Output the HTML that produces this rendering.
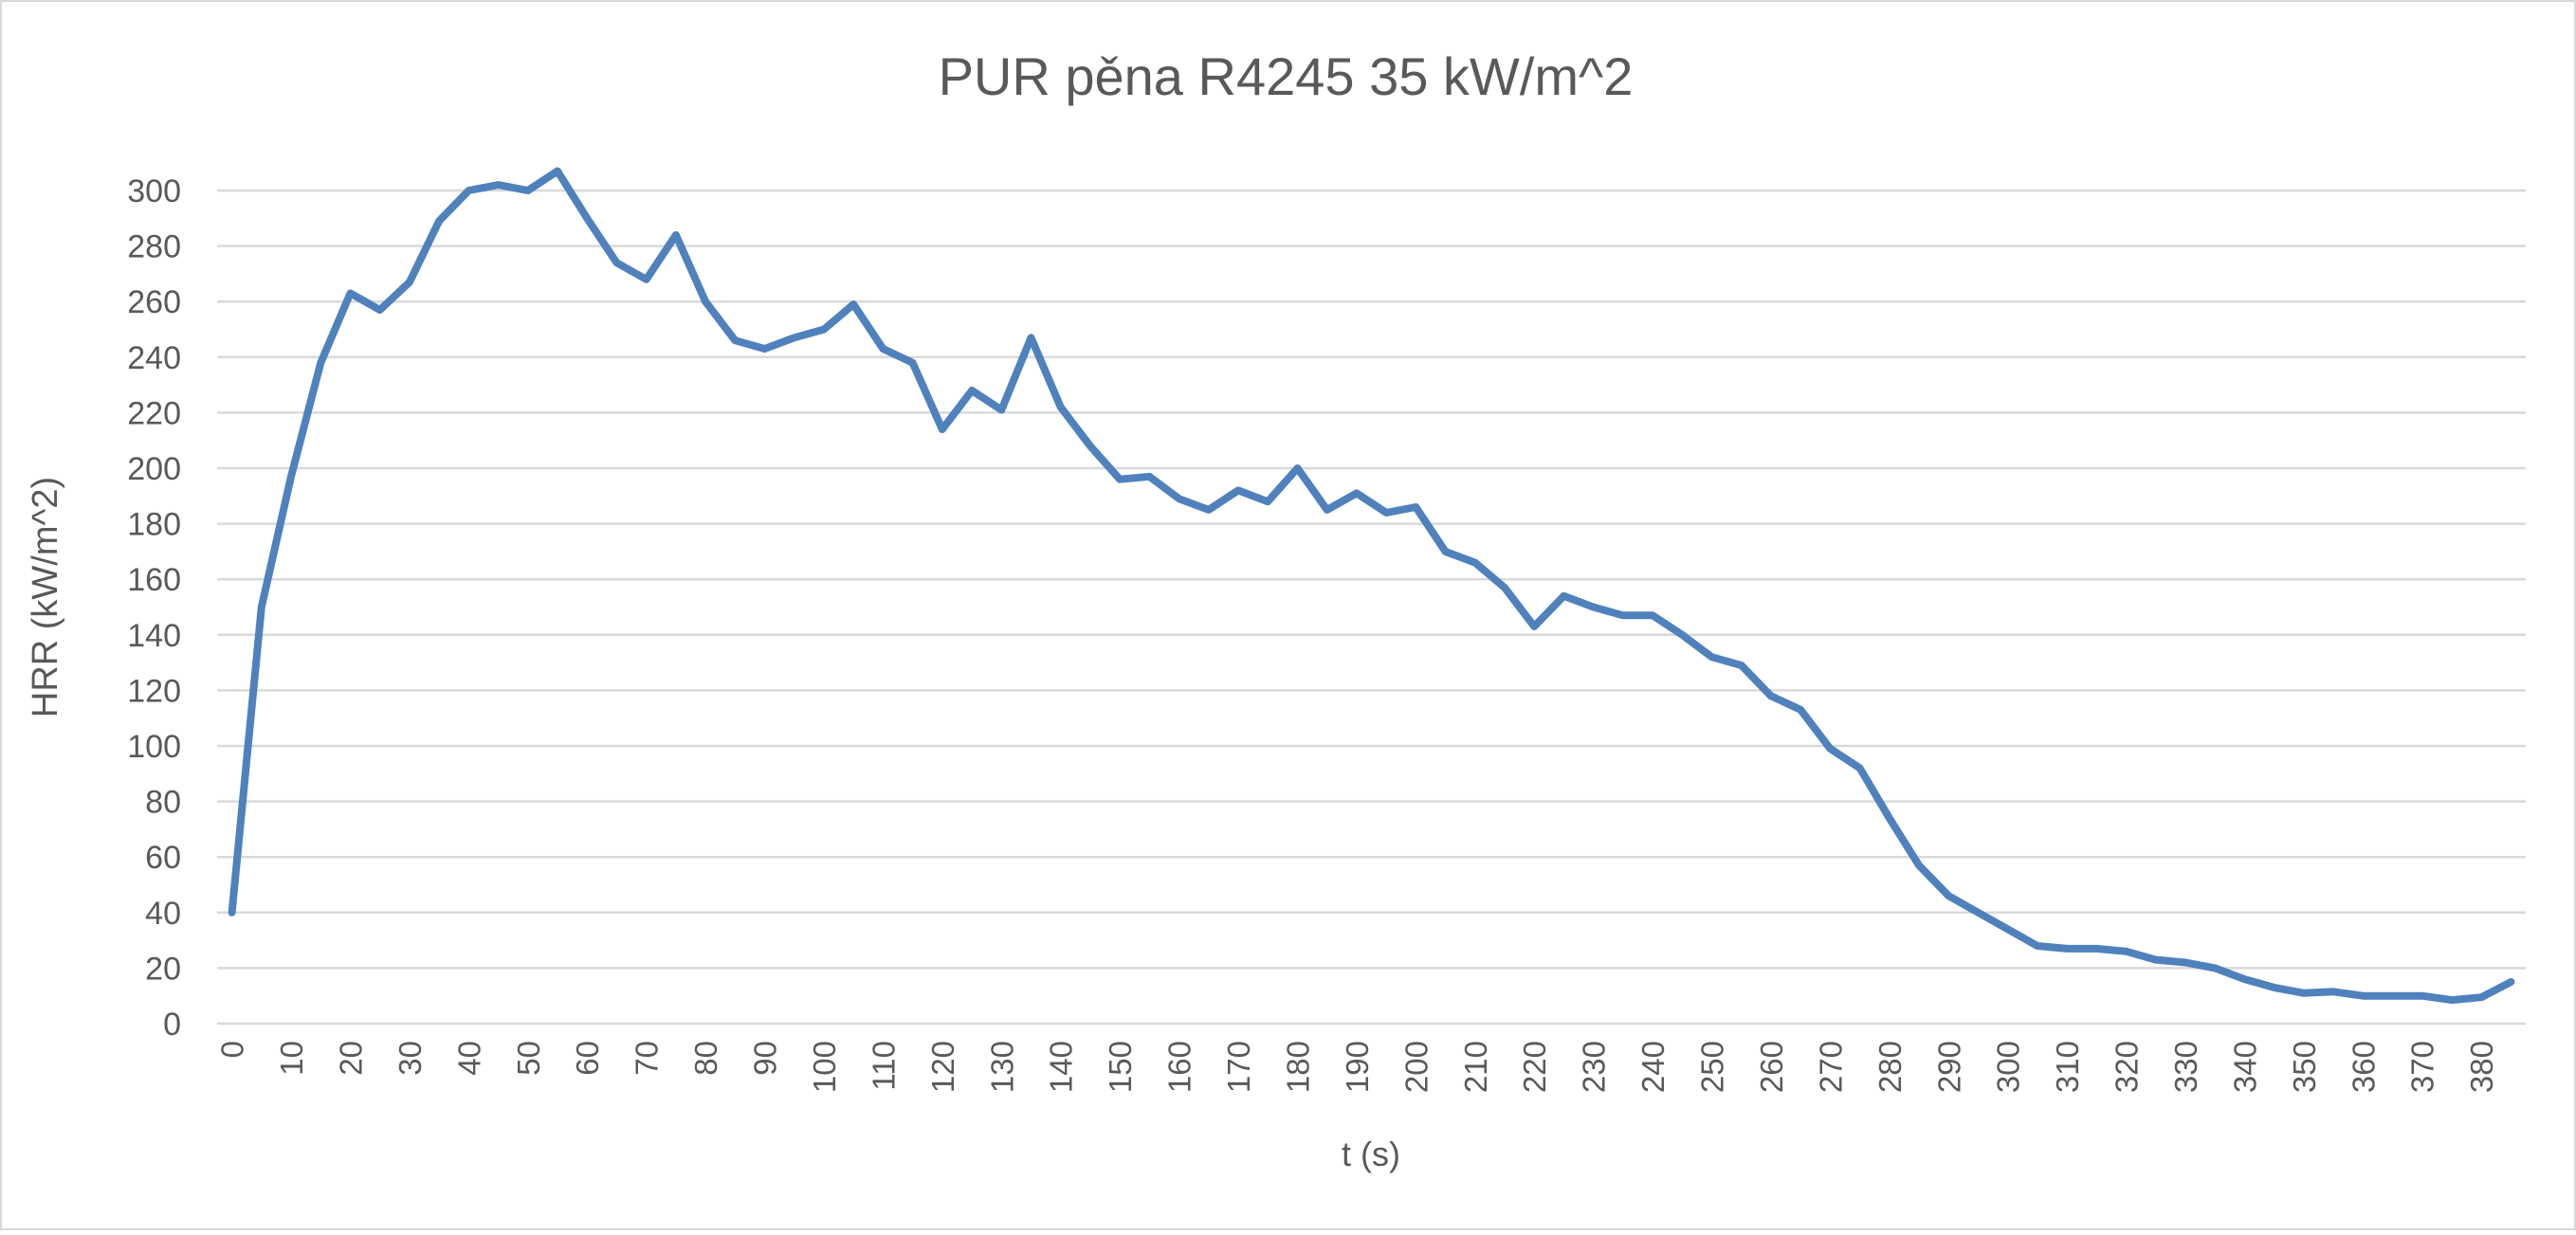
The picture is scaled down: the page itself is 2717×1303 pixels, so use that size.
<!DOCTYPE html>
<html><head><meta charset="utf-8"><style>
html,body{margin:0;padding:0;background:#fff;}
svg text{font-family:"Liberation Sans",sans-serif;fill:#595959;}
</style></head><body>
<svg id="chart" width="2717" height="1298" viewBox="0 0 2717 1298" xmlns="http://www.w3.org/2000/svg">
<rect x="1" y="1" width="2715" height="1296" fill="#fff" stroke="#d9d9d9" stroke-width="2"/>
<text x="1356" y="100" font-size="56" text-anchor="middle">PUR pěna R4245 35 kW/m^2</text>
<text x="1446" y="1230" font-size="36" text-anchor="middle">t (s)</text>
<text transform="translate(60,630) rotate(-90)" font-size="38" text-anchor="middle">HRR (kW/m^2)</text>
<g id="grid"></g><g id="yt"></g><g id="xt"></g><g id="series"></g>
</svg>
<script>
const categories = [];
for (let t = 0; t <= 385; t += 5) categories.push(t);
const hrrValues = [40,150,197,238,263,257,267,289,300,302,300,307,290,274,268,284,260,246,243,247,250,259,243,238,214,228,221,247,222,208,196,197,189,185,192,188,200,185,191,184,186,170,166,157,143,154,150,147,147,140,132,129,118,113,99,92,74,57,46,40,34,28,27,27,26,23,22,20,16,13,11,11.5,10,10,10,8.5,9.5,15];
const yTicks = [0,20,40,60,80,100,120,140,160,180,200,220,240,260,280,300];
const xTickLabels = [0,10,20,30,40,50,60,70,80,90,100,110,120,130,140,150,160,170,180,190,200,210,220,230,240,250,260,270,280,290,300,310,320,330,340,350,360,370,380];

const NS = "http://www.w3.org/2000/svg";
const left = 229, right = 2664, top0 = 201, bottom = 1080;
const catW = (right - left) / categories.length;
const xOf = i => left + catW * (i + 0.5);
const xOfT = t => xOf(categories.indexOf(t));
const yOf = v => bottom - (v / 300) * (bottom - top0);

const grid = document.getElementById('grid');
const yt = document.getElementById('yt');
yTicks.forEach(v => {
  const l = document.createElementNS(NS, 'line');
  l.setAttribute('x1', left); l.setAttribute('x2', right);
  l.setAttribute('y1', yOf(v)); l.setAttribute('y2', yOf(v));
  l.setAttribute('stroke', '#d9d9d9'); l.setAttribute('stroke-width', '2.5');
  
  
  grid.appendChild(l);
  const tx = document.createElementNS(NS, 'text');
  tx.setAttribute('x', 191); tx.setAttribute('y', yOf(v) + 12);
  tx.setAttribute('font-size', '34'); tx.setAttribute('text-anchor', 'end');
  tx.textContent = v;
  
  
  yt.appendChild(tx);
});
const xt = document.getElementById('xt');
xTickLabels.forEach(t => {
  const x = xOfT(t);
  const tx = document.createElementNS(NS, 'text');
  tx.setAttribute('transform', `translate(${x + 12},1098) rotate(-90)`);
  tx.setAttribute('font-size', '33'); tx.setAttribute('text-anchor', 'end');
  tx.textContent = t;
  
  
  xt.appendChild(tx);
});
const p = document.createElementNS(NS, 'polyline');
p.setAttribute('points', hrrValues.map((v, i) => xOf(i).toFixed(1) + ',' + yOf(v).toFixed(1)).join(' '));
p.setAttribute('fill', 'none'); p.setAttribute('stroke', '#4f81bd');
p.setAttribute('stroke-width', '8'); p.setAttribute('stroke-linejoin', 'round'); p.setAttribute('stroke-linecap', 'round');


document.getElementById('series').appendChild(p);
</script>
</body></html>
